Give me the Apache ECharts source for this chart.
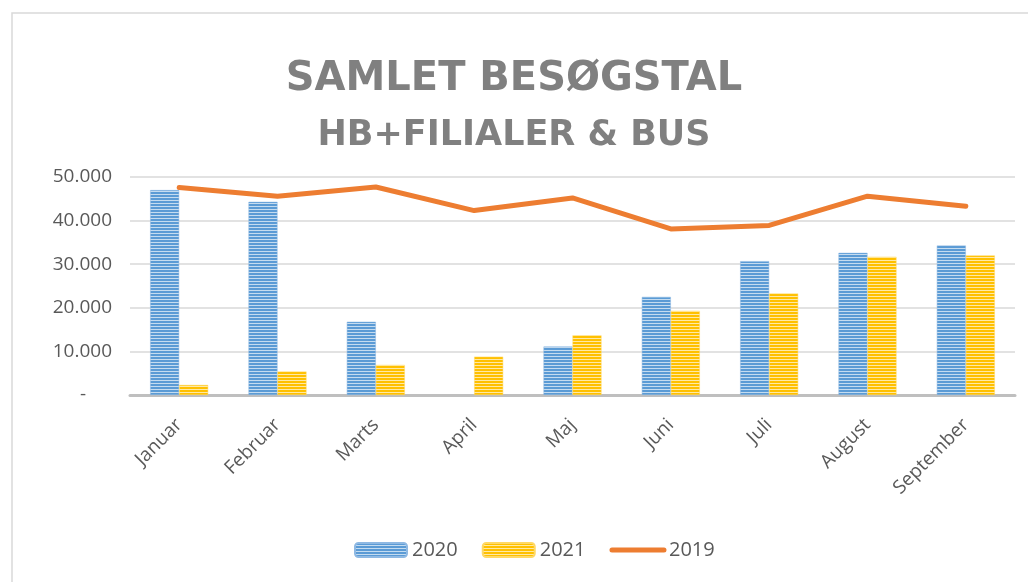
<!DOCTYPE html>
<html>
<head>
<meta charset="utf-8">
<script src="https://cdn.jsdelivr.net/npm/echarts@6/dist/echarts.min.js"></script>
<style>
  html, body { margin: 0; padding: 0; background: #fff; }
  #main { width: 1028px; height: 582px; }
</style>
</head>
<body>
<div id="main"></div>
<script>
// data
const months = ["Januar", "Februar", "Marts", "April", "Maj", "Juni", "Juli", "August", "September"];
const visits2020 = [47000, 44300, 16800, null, 11100, 22500, 30700, 32600, 34300];
const visits2021 = [2300, 5400, 6900, 8800, 13700, 19300, 23300, 31700, 32000];
const visits2019 = [47600, 45600, 47700, 42300, 45200, 38100, 38900, 45600, 43300];

const textGrey = "#595959";

// horizontal stripe fill for the bars
function stripes(dark, light) {
  const c = document.createElement("canvas");
  c.width = 4;
  c.height = 3;
  const ctx = c.getContext("2d");
  ctx.fillStyle = dark;
  ctx.fillRect(0, 0, 4, 2);
  ctx.fillStyle = light;
  ctx.fillRect(0, 2, 4, 1);
  return { image: c, repeat: "repeat" };
}

function fmt(v) {
  if (v === 0) return "{dash|-}";
  return String(v).replace(/\B(?=(\d{3})+(?!\d))/g, ".");
}

const chart = echarts.init(document.getElementById("main"));
chart.setOption({
  animation: false,
  title: [
    {
      text: "SAMLET BESØGSTAL",
      left: "center",
      top: 55,
      textStyle: { fontFamily: "DejaVu Sans", fontWeight: "bold", fontSize: 40, color: "#808080" },
    },
    {
      text: "HB+FILIALER & BUS",
      left: "center",
      top: 113,
      textStyle: { fontFamily: "DejaVu Sans", fontWeight: "bold", fontSize: 35, color: "#808080" },
    },
  ],
  graphic: [
    {
      type: "rect",
      shape: { x: 12, y: 13, width: 1100, height: 700 },
      style: { fill: "none", stroke: "#D9D9D9", lineWidth: 1.5 },
      silent: true,
    },
  ],
  legend: {
    bottom: 17,
    left: 349,
    itemWidth: 52,
    itemHeight: 14,
    itemGap: 24,
    data: [
      "2020",
      "2021",
      { name: "2019", itemStyle: { opacity: 0 }, lineStyle: { color: "#ED7D31", width: 5, cap: "round" } },
    ],
    textStyle: { fontFamily: "Open Sans", fontSize: 20, color: textGrey },
  },
  grid: { left: 130, right: 13, top: 177, bottom: 187 },
  xAxis: {
    type: "category",
    data: months,
    axisLine: { lineStyle: { color: "#BFBFBF", width: 3 } },
    axisTick: { show: false },
    axisLabel: {
      rotate: 45,
      margin: 27,
      fontFamily: "Open Sans",
      fontSize: 19,
      color: textGrey,
    },
  },
  yAxis: {
    type: "value",
    min: 0,
    max: 50000,
    interval: 10000,
    axisLine: { show: false },
    axisTick: { show: false },
    splitLine: { lineStyle: { color: "#D9D9D9", width: 1.5 } },
    axisLabel: {
      margin: 18,
      fontFamily: "Open Sans",
      fontSize: 19,
      color: textGrey,
      formatter: fmt,
      rich: { dash: { fontFamily: "Open Sans", fontSize: 19, color: textGrey, padding: [0, 26, 0, 0] } },
    },
  },
  series: [
    {
      name: "2020",
      type: "bar",
      data: visits2020,
      barWidth: 29,
      barGap: "0%",
      itemStyle: { color: stripes("#5B9BD5", "#C5DCF0"), borderColor: "#8FB9E3", borderWidth: 0.5 },
    },
    {
      name: "2021",
      type: "bar",
      data: visits2021,
      barWidth: 29,
      itemStyle: { color: stripes("#FFC000", "#FFE9A6"), borderColor: "#FFD966", borderWidth: 0.5 },
    },
    {
      name: "2019",
      type: "line",
      data: visits2019,
      symbol: "none",
      lineStyle: { color: "#ED7D31", width: 5, cap: "round", join: "round" },
      itemStyle: { color: "#ED7D31" },
    },
  ],
});
</script>
</body>
</html>
